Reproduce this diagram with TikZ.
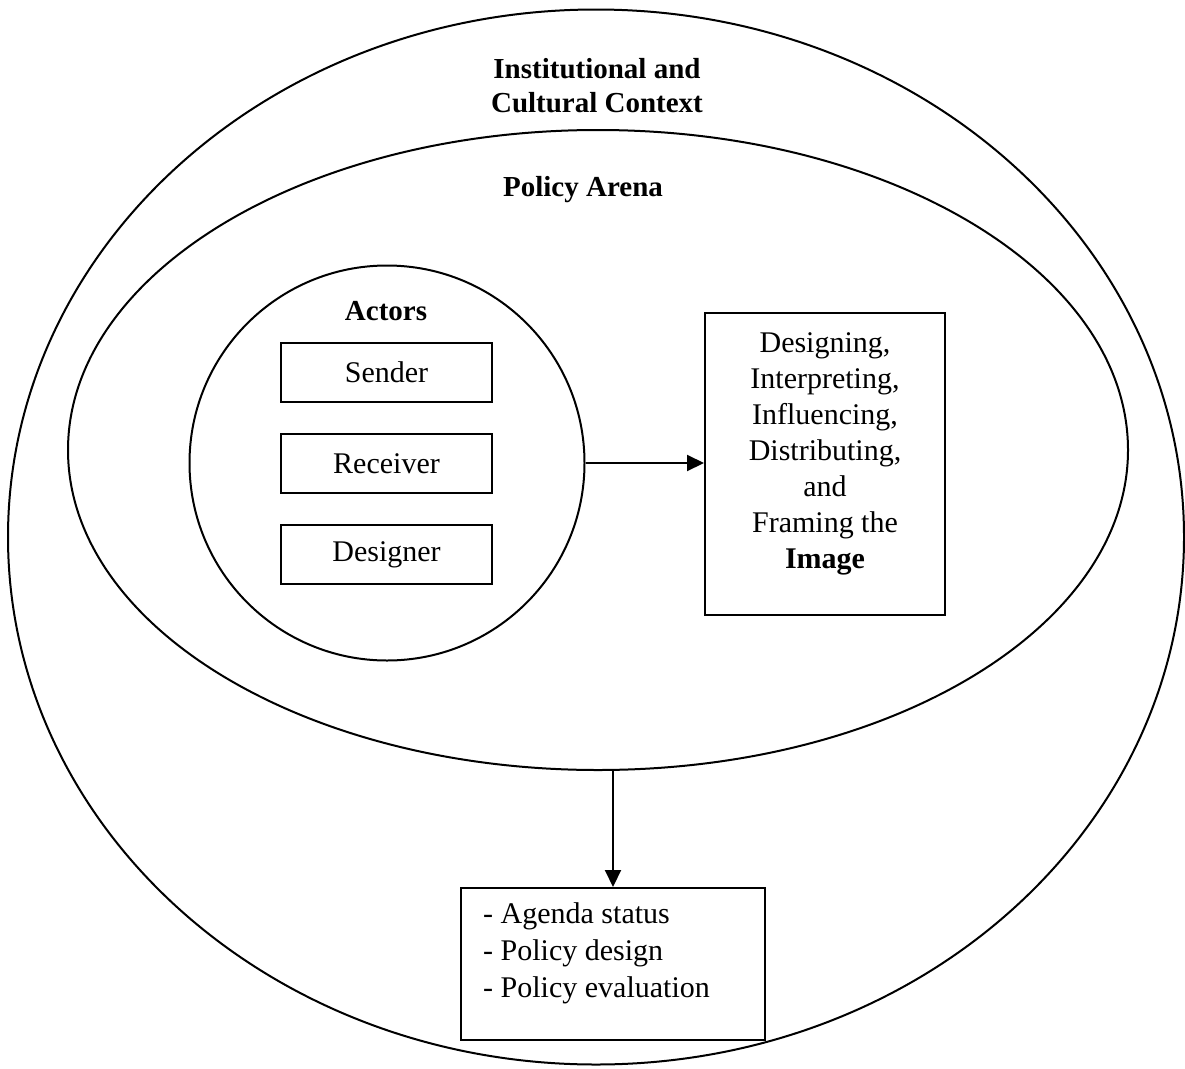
\documentclass[tikz,border=0pt]{standalone}
\usepackage{fontspec}
\setmainfont{Liberation Serif}
\usetikzlibrary{shapes.geometric,arrows.meta}
\begin{document}
\begin{tikzpicture}[x=1pt,y=-1pt,
  ln/.style={line width=2pt},
  oval/.style={ellipse,draw,ln,inner sep=0pt},
  actorbox/.style={draw,ln,minimum width=211pt,minimum height=59pt,inner sep=0pt},
  txt/.style={font=\fontsize{30pt}{37pt}\selectfont,inner sep=0pt},
  ttl/.style={txt,font=\fontsize{29pt}{34pt}\selectfont\bfseries,align=center},
  arr/.style={ln,-{Triangle[length=17pt,width=16pt]}}]
\useasboundingbox (0,0) rectangle (1185,1068);
\node[oval,minimum width=1176pt,minimum height=1055pt] (outer) at (596,537) {};
\node[oval,minimum width=1060pt,minimum height=640pt] (arena) at (598,450) {};
\node[circle,draw,ln,minimum size=395pt,inner sep=0pt] (actors) at (387,463) {};
\node[ttl] (ctx) at (597,86) {Institutional and\\Cultural Context};
\node[ttl] (arenalbl) at (583,190) {Policy Arena};
\node[ttl] (actlbl) at (386,311) {Actors};
\node[actorbox,txt] (sender) at (386.5,372.5) {Sender};
\node[actorbox,txt] (receiver) at (386.5,463.5) {Receiver};
\node[actorbox,txt] (designer) at (386.5,554.5) {Designer};
\node[draw,ln,minimum width=240pt,minimum height=302pt,inner sep=0pt] (rbox) at (825,464) {};
\node[txt,align=center,font=\fontsize{30pt}{36pt}\selectfont] (rtext) at (825,454) {Designing,\\Interpreting,\\Influencing,\\Distributing,\\and\\Framing the\\\textbf{Image}};
\node[draw,ln,minimum width=304pt,minimum height=152pt,inner sep=0pt] (outbox) at (613,964) {};
\node[txt,align=left,anchor=west] (otext) at (483,953) {- Agenda status\\- Policy design\\- Policy evaluation};
\draw[arr] (actors.east) -- (actors.east -| rbox.west);
\draw[arr] (arena.south -| outbox.north) -- (outbox.north);
\end{tikzpicture}
\end{document}
